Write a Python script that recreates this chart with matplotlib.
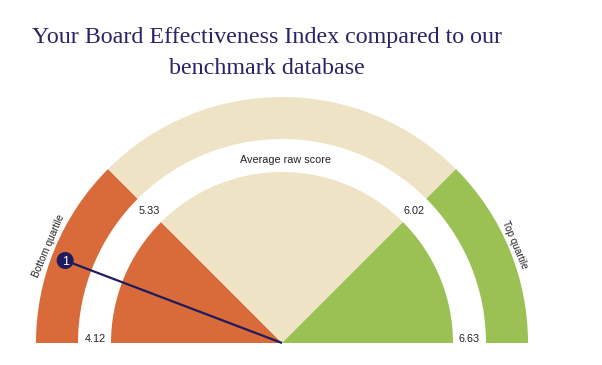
import numpy as np
import matplotlib
matplotlib.use('Agg')
import matplotlib.pyplot as plt
from matplotlib.patches import Wedge, Circle

# data
bounds = [4.12, 5.33, 6.02, 6.63]          # quartile boundaries (raw score)
bound_angles = [180, 135, 45, 0]           # where each boundary sits on the gauge
segments = ['Bottom quartile', 'Average raw score', 'Top quartile']
seg_colors = ['#D96A39', '#EFE3C6', '#9BC154']
your_score = 4.68
marker_label = '1'

navy = '#1E1B5E'
title_color = '#2A2464'
sans = ['Liberation Sans', 'DejaVu Sans']

def to_angle(v):
    return np.interp(v, bounds, bound_angles)

fig = plt.figure(figsize=(6.02, 3.65), dpi=100)
ax = fig.add_axes([0, 0, 1, 1])
ax.set_xlim(-282, 320)
ax.set_ylim(-22, 343)
ax.set_aspect('equal')
ax.axis('off')

R_out, R_band_in, R_pie = 246, 204, 171

# outer band + inner pie, one wedge per segment
for i, col in enumerate(seg_colors):
    a1 = to_angle(bounds[i + 1])
    a2 = to_angle(bounds[i])
    ax.add_patch(Wedge((0, 0), R_out, a1, a2, width=R_out - R_band_in,
                       facecolor=col, edgecolor='none'))
    ax.add_patch(Wedge((0, 0), R_pie, a1, a2, facecolor=col, edgecolor='none'))

# boundary values in the white gap
r_lab = 187
for v in bounds:
    a = np.deg2rad(to_angle(v))
    x, y = r_lab * np.cos(a), r_lab * np.sin(a)
    if abs(y) < 1:
        y = 4.5
    ax.text(x, y, f'{v:.2f}', fontsize=7.8, ha='center', va='center',
            color='#222222', family=sans)

ax.text(4, 183, segments[1], fontsize=7.8, ha='center', va='center',
        color='#222222', family=sans)

# quartile labels along the outer arc
r_q = 253
for name, ang, rot in [(segments[0], 157.4, 67), (segments[2], 22.9, -67)]:
    a = np.deg2rad(ang)
    ax.text(r_q * np.cos(a), r_q * np.sin(a), name, fontsize=7.2, rotation=rot,
            ha='center', va='center', color='#222222', rotation_mode='anchor',
            family=sans)

# your score marker
a = np.deg2rad(to_angle(your_score))
r_m = 232
mx, my = r_m * np.cos(a), r_m * np.sin(a)
ax.plot([0, mx], [0, my], color=navy, lw=1.6, solid_capstyle='butt', zorder=4)
ax.add_patch(Circle((mx, my), 8.5, facecolor=navy, edgecolor='none', zorder=5))
ax.text(mx, my, marker_label, fontsize=9, color='white', ha='center',
        va='center_baseline', family=sans, zorder=6)

# title
ax.text(-15, 305, 'Your Board Effectiveness Index compared to our', fontsize=17.3,
        family='Liberation Serif', color=title_color, ha='center', va='center')
ax.text(-15, 275, 'benchmark database', fontsize=17.3,
        family='Liberation Serif', color=title_color, ha='center', va='center')

fig.savefig('out.png', dpi=100, facecolor='white')
